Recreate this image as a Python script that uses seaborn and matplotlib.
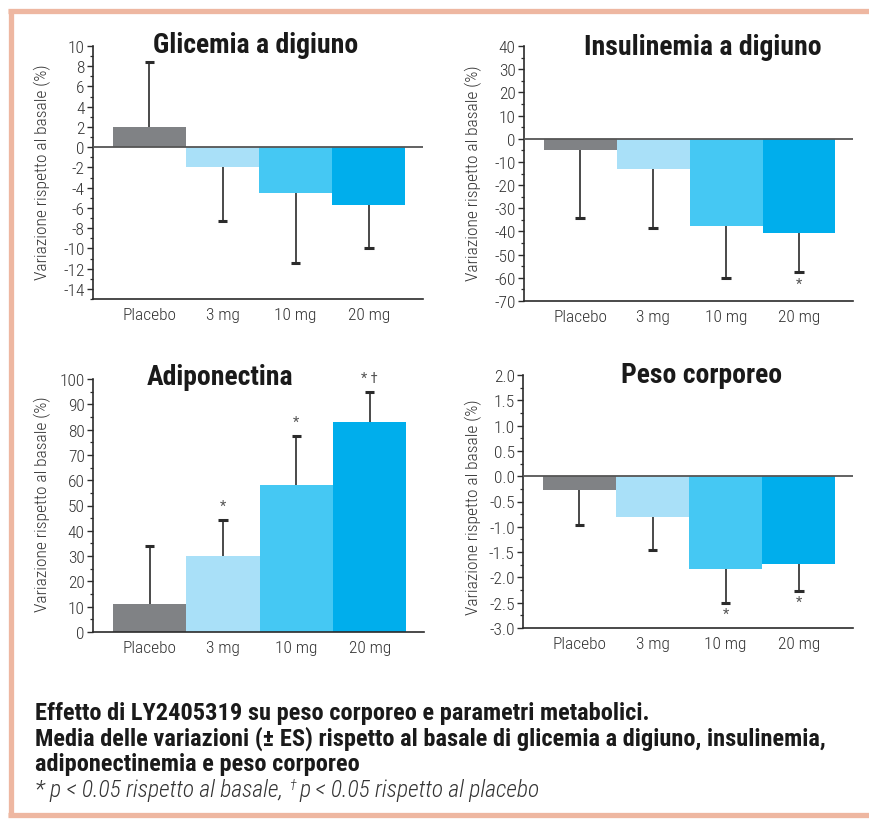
import matplotlib
matplotlib.use("Agg")
import matplotlib.pyplot as plt
from matplotlib import font_manager as fm
from matplotlib.lines import Line2D
from matplotlib.ticker import MultipleLocator, FormatStrFormatter
import seaborn as sns

# ---- data -------------------------------------------------------------
doses = ["Placebo", "3 mg", "10 mg", "20 mg"]
bar_colors = ["#808285", "#A9E0F8", "#45C8F3", "#00AEEC"]

glic_mean = [2.0, -2.0, -4.5, -5.7]
glic_se = [6.4, 5.3, 6.9, 4.3]
glic_sig = ["", "", "", ""]

insul_mean = [-4.9, -13.2, -37.8, -40.7]
insul_se = [29.5, 25.5, 22.3, 17.0]
insul_sig = ["", "", "", "*"]

adipo_mean = [10.9, 29.9, 58.0, 83.0]
adipo_se = [23.1, 14.4, 19.4, 12.0]
adipo_sig = ["", "*", "*", "* \u2020"]

peso_mean = [-0.28, -0.81, -1.83, -1.74]
peso_se = [0.69, 0.64, 0.68, 0.53]
peso_sig = ["", "", "*", "*"]

titles = ["Glicemia a digiuno", "Insulinemia a digiuno", "Adiponectina", "Peso corporeo"]
ylabel = "Variazione rispetto al basale (%)"

caption_lines = [
    "Effetto di LY2405319 su peso corporeo e parametri metabolici.",
    "Media delle variazioni (\u00b1 ES) rispetto al basale di glicemia a digiuno, insulinemia,",
    "adiponectinemia e peso corporeo",
]
footnote_a = "* p < 0.05 rispetto al basale,"
footnote_dag = "\u2020"
footnote_b = "p < 0.05 rispetto al placebo"


# ---- fonts: prefer a narrow sans ---------------------------------------
def pick_family():
    entries = fm.fontManager.ttflist
    avail = {f.name for f in entries}
    for name in ["Liberation Sans Narrow", "Roboto Condensed", "Open Sans Condensed",
                 "Noto Sans Condensed", "DejaVu Sans Condensed", "Arial Narrow"]:
        if name in avail:
            return name, "normal"
    for f in entries:
        if f.name == "DejaVu Sans" and str(f.stretch) in ("condensed", "semi-condensed"):
            return "DejaVu Sans", "condensed"
    for f in entries:
        if f.name in ("Roboto", "Noto Sans", "Open Sans") and str(f.stretch) in (
                "condensed", "semi-condensed", "extra-condensed"):
            return f.name, str(f.stretch)
    return "Roboto", "normal"


FAMILY, STRETCH = pick_family()

sns.set_style("ticks")
plt.rcParams["font.family"] = [FAMILY, "DejaVu Sans"]
plt.rcParams["font.stretch"] = STRETCH
plt.rcParams["axes.unicode_minus"] = False

W, H = 870, 820
fig = plt.figure(figsize=(W / 100, H / 100), dpi=100)
fig.patch.set_facecolor("white")
fig.canvas.draw()
renderer = fig.canvas.get_renderer()

TXT = "#333333"
DARK = "#2b2b2b"
BORDER = "#EEB7A1"
LIGHT = "light"


def fx(px):
    return px / W


def fy(py):
    return 1 - py / H


def fit_size(text, width_px, **kw):
    """Font size (pt) at which `text` spans `width_px` pixels."""
    probe = fig.text(0, 0, text, fontsize=20, **kw)
    w = probe.get_window_extent(renderer).width
    probe.remove()
    return 20 * width_px / w


def axes_px(left, top, right, bottom):
    return [fx(left), fy(bottom), fx(right) - fx(left), fy(top) - fy(bottom)]


TITLE_FS = min(fit_size(titles[0], 205, fontweight="bold"), 21)
TICK_FS = min(fit_size("Placebo", 54, fontweight=LIGHT), 14)
YLAB_FS = min(fit_size(ylabel, 217, fontweight=LIGHT), 12.5)
CAP_FS = min(fit_size(caption_lines[1], 792, fontweight="bold"), 18)
FOOT_FS = min(fit_size(footnote_a, 250, style="italic", fontweight=LIGHT), 17)

panels = [
    dict(rect=axes_px(93, 47, 423, 300), mean=glic_mean, se=glic_se, sig=glic_sig,
         ylim=(-15, 10), major=2, minor=1, fmt="%d", title=titles[0],
         title_xy=(256, 53), ylab_xy=(42, 172), zero=True),
    dict(rect=axes_px(524, 47, 853, 302), mean=insul_mean, se=insul_se, sig=insul_sig,
         ylim=(-70, 40), major=10, minor=5, fmt="%d", title=titles[1],
         title_xy=(703, 55), ylab_xy=(473, 173), zero=True),
    dict(rect=axes_px(93, 380, 424, 633), mean=adipo_mean, se=adipo_se, sig=adipo_sig,
         ylim=(0, 100), major=10, minor=5, fmt="%d", title=titles[2],
         title_xy=(220, 385), ylab_xy=(42, 504), zero=False),
    dict(rect=axes_px(523, 376, 853, 629), mean=peso_mean, se=peso_se, sig=peso_sig,
         ylim=(-3.0, 2.0), major=0.5, minor=0.25, fmt="%.1f", title=titles[3],
         title_xy=(702, 383), ylab_xy=(473, 507), zero=True),
]

CAP_HALF = 0.065  # half width of the error-bar caps, in category units

for p in panels:
    ax = fig.add_axes(p["rect"])
    sns.barplot(x=doses, y=p["mean"], hue=doses, palette=bar_colors, width=1.0,
                saturation=1, linewidth=0, errorbar=None, legend=False, ax=ax,
                zorder=2)

    # one-sided standard-error bars pointing away from zero, capped at the far end
    xs = list(range(len(doses)))
    ends = [m + s if m >= 0 else m - s for m, s in zip(p["mean"], p["se"])]
    ax.vlines(xs, p["mean"], ends, color=DARK, lw=1.2, zorder=3)
    ax.hlines(ends, [x - CAP_HALF for x in xs], [x + CAP_HALF for x in xs],
              color=DARK, lw=2.2, zorder=3)

    # significance marks beyond the error bar ends
    for i, (m, end, mark) in enumerate(zip(p["mean"], ends, p["sig"])):
        if not mark:
            continue
        dy = 10 if m >= 0 else -8
        ax.annotate(mark, (i, end), xytext=(0, dy), textcoords="offset points",
                    ha="center", va="center", fontsize=10.5, color="#555555",
                    zorder=4)

    if p["zero"]:
        ax.axhline(0, color="#555555", lw=1.3, zorder=4)

    ax.set_xlim(-0.77, 3.74)
    ax.set_ylim(*p["ylim"])
    ax.yaxis.set_major_locator(MultipleLocator(p["major"]))
    ax.yaxis.set_minor_locator(MultipleLocator(p["minor"]))
    ax.yaxis.set_major_formatter(FormatStrFormatter(p["fmt"]))
    ax.set_xlabel("")
    ax.set_ylabel("")
    sns.despine(ax=ax)
    for side in ("left", "bottom"):
        ax.spines[side].set_color(DARK)
        ax.spines[side].set_linewidth(1.2)
    ax.tick_params(axis="y", which="major", length=4, width=1, color=DARK,
                   labelsize=TICK_FS, labelcolor=TXT, pad=2)
    ax.tick_params(axis="y", which="minor", length=2, width=0.9, color=DARK)
    ax.tick_params(axis="x", which="both", length=0, labelsize=TICK_FS,
                   labelcolor=TXT, pad=6)
    for lab in ax.get_xticklabels() + ax.get_yticklabels():
        lab.set_fontweight(LIGHT)
    ax.set_facecolor("none")

    tx, ty = p["title_xy"]
    fig.text(fx(tx), fy(ty), p["title"], ha="center", va="baseline",
             fontsize=TITLE_FS, fontweight="bold", color="#1a1a1a")
    lx, ly = p["ylab_xy"]
    fig.text(fx(lx), fy(ly), ylabel, rotation=90, ha="center", va="center",
             fontsize=YLAB_FS, fontweight=LIGHT, color=TXT)

# ---- caption ----------------------------------------------------------
for k, line in enumerate(caption_lines):
    fig.text(fx(35), fy(720 + 25.5 * k), line, ha="left", va="baseline",
             fontsize=CAP_FS, fontweight="bold", color="#1a1a1a")

foot_y = fy(797)
t1 = fig.text(fx(35), foot_y, footnote_a, ha="left", va="baseline",
              fontsize=FOOT_FS, style="italic", fontweight=LIGHT, color=TXT)
x_after = t1.get_window_extent(renderer).x1 + 6
t2 = fig.text(fx(x_after), foot_y + 7 / H, footnote_dag, ha="left",
              va="baseline", fontsize=FOOT_FS * 0.6, style="italic",
              fontweight=LIGHT, color=TXT)
x_after = t2.get_window_extent(renderer).x1 + 4
fig.text(fx(x_after), foot_y, footnote_b, ha="left", va="baseline",
         fontsize=FOOT_FS, style="italic", fontweight=LIGHT, color=TXT)

# ---- salmon frame -----------------------------------------------------
frame_lw = 3.8
fig.add_artist(Line2D([fx(8), fx(870)], [fy(12), fy(12)], color=BORDER,
                      lw=frame_lw, solid_capstyle="butt"))
fig.add_artist(Line2D([fx(11), fx(11)], [fy(10), fy(818)], color=BORDER,
                      lw=frame_lw, solid_capstyle="butt"))
fig.add_artist(Line2D([fx(8), fx(870)], [fy(816), fy(816)], color=BORDER,
                      lw=frame_lw, solid_capstyle="butt"))

fig.savefig("out.png", dpi=100, facecolor="white")
